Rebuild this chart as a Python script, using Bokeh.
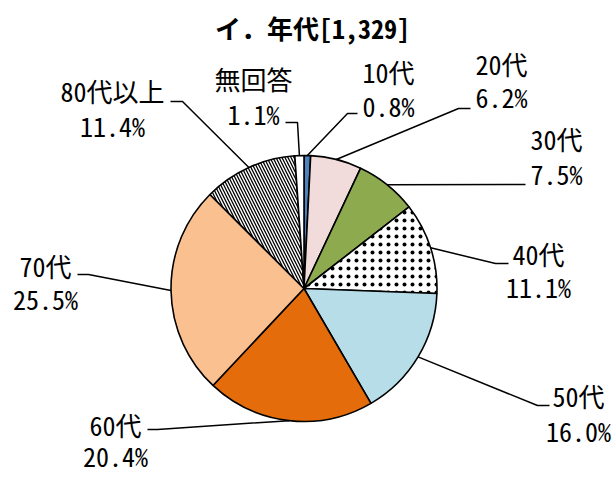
import math
from bokeh.plotting import figure
from bokeh.models import Range1d, ColumnDataSource
from bokeh.core.properties import value
from bokeh.embed import file_html
from bokeh.resources import INLINE

# ---------------- data ----------------
title_text = "イ．年代[1,329]"
categories = ["10代", "20代", "30代", "40代", "50代", "60代", "70代", "80代以上", "無回答"]
percents = [0.8, 6.2, 7.5, 11.1, 16.0, 20.4, 25.5, 11.4, 1.1]

# ---------------- styles ----------------
fill_colors = ["#4F81BD", "#F2DCDB", "#8DAA4F", "#FFFFFF", "#B7DEE8",
               "#E46C0A", "#FAC090", "#FFFFFF", "#FFFFFF"]
hatch_patterns = ["blank", "blank", "blank", "dot", "blank",
                  "blank", "blank", "left_diagonal_line", "blank"]
hatch_scales = [8, 8, 8, 8, 8, 8, 8, 6, 8]
hatch_weights = [1, 1, 1, 0.9, 1, 1, 1, 1.3, 1]
FONT = value("'Noto Sans Mono CJK JP', 'Noto Sans CJK JP'")

# ---------------- layout (screen pixels) ----------------
W, H = 613, 477
TEXT_SHIFT = -12  # compensation of baseline placement
def X(sx):
    return sx
def Y(sy):
    return H - sy

cx, cy, r = 303.5, 288.0, 133.0
label_x = [388, 501, 556, 538, 578, 115, 45, 112, 253]
name_base = [83, 75, 150, 265, 407, 436, 277, 102, 90]
pct_base = [117, 108, 185, 298, 442, 467, 310, 137, 125]
elbow = [(347, 113), (458, 108), (513, 184), (495, 263), (537, 405),
         (157, 429), (88, 274), (182, 101), (297, 122)]
lead_end = [(357, 113), (470, 108), (525, 184), (508, 263), (549, 405),
            (147, 429), (77, 274), (170, 101), (285, 122)]

# ---------------- figure ----------------
p = figure(width=W, height=H, output_backend="svg", toolbar_location=None,
           x_range=Range1d(0, W), y_range=Range1d(0, H), min_border=0)
p.axis.visible = False
p.grid.visible = False
p.outline_line_color = None
p.background_fill_color = "white"

total = sum(percents)
starts, ends, mids = [], [], []
cum = 0.0
for v in percents:
    a0 = math.pi / 2 - 2 * math.pi * cum / total
    cum += v
    a1 = math.pi / 2 - 2 * math.pi * cum / total
    starts.append(a0)
    ends.append(a1)
    mids.append((a0 + a1) / 2)

src = ColumnDataSource(dict(start=starts, end=ends, color=fill_colors,
                            hatch=hatch_patterns, hscale=hatch_scales,
                            hweight=hatch_weights))
p.wedge(x=X(cx), y=Y(cy), radius=r, start_angle="start", end_angle="end",
        direction="clock", fill_color="color", line_color="black", line_width=1.6,
        hatch_pattern="hatch", hatch_scale="hscale", hatch_color="black",
        hatch_weight="hweight", source=src)

# leader lines
xs, ys = [], []
for m, (ex, ey), (lx, ly) in zip(mids, elbow, lead_end):
    px = X(cx) + r * math.cos(m)
    py = Y(cy) + r * math.sin(m)
    xs.append([px, X(ex), X(lx)])
    ys.append([py, Y(ey), Y(ly)])
p.multi_line(xs=xs, ys=ys, line_color="black", line_width=1.5)

# labels
lab = ColumnDataSource(dict(
    x=[X(v) for v in label_x],
    yn=[Y(v + TEXT_SHIFT) for v in name_base],
    yp=[Y(v + TEXT_SHIFT) for v in pct_base],
    name=categories,
    pct=[f"{v:.1f}%" for v in percents],
))
p.text(x="x", y="yn", text="name", source=lab, text_font=FONT,
       text_font_size="26px", text_align="center", text_baseline="alphabetic",
       text_color="black")
p.text(x="x", y="yp", text="pct", source=lab, text_font=FONT,
       text_font_size="26px", text_align="center", text_baseline="alphabetic",
       text_color="black")

# title
p.text(x=[X(312)], y=[Y(39 + TEXT_SHIFT)], text=[title_text], text_font=FONT,
       text_font_size="26px", text_font_style="bold", text_align="center",
       text_baseline="alphabetic", text_color="black")

open("out.html", "w").write(file_html(p, INLINE))
